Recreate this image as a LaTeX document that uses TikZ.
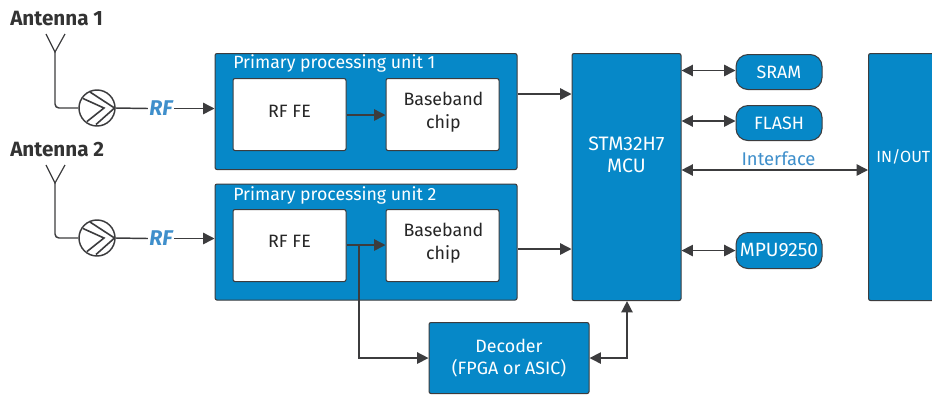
\documentclass[tikz,border=0pt]{standalone}
\usepackage{fontspec}
\setmainfont{Fira Sans}
\usetikzlibrary{arrows.meta}
\definecolor{bluefill}{HTML}{0688C8}
\definecolor{edgeg}{HTML}{3C3C3E}
\definecolor{labelb}{HTML}{3F8FCB}
\tikzset{
 x=0.75pt,y=-0.75pt,
 >={Triangle[length=8.5pt,width=8.5pt]},
 bxs/.style n args={4}{at={(#1,#3)},minimum width={(#2-#1)*0.75pt},minimum height={(#4-#3)*0.75pt},anchor=north west},
 bluebox/.style={draw=edgeg,line width=0.8pt,fill=bluefill,rounded corners=1.5pt,text=white,inner sep=0pt,align=center,font=\fontsize{13.4}{16}\selectfont},
 whitebox/.style={draw=edgeg,line width=0.8pt,fill=white,rounded corners=1.5pt},
 wtext/.style={text=black!85,inner sep=0pt,align=center,font=\fontsize{13.4}{17}\selectfont},
 pillbox/.style={bluebox,rounded corners=9pt},
 conn/.style={draw=edgeg,line width=1.1pt},
 arr/.style={conn,->},
 barr/.style={conn,<->},
 amp/.style={circle,draw=edgeg,line width=1.1pt,fill=white,minimum size=27pt,inner sep=0pt},
 antlabel/.style={text=black!80,font=\fontsize{15.5}{18}\selectfont\bfseries,inner sep=0pt,anchor=west},
 rflabel/.style={text=labelb,font=\fontsize{16}{18}\selectfont\bfseries\itshape,inner sep=1pt,fill=white},
 boxtitle/.style={text=white,font=\fontsize{13.3}{16}\selectfont,inner sep=0pt,anchor=west},
 iflabel/.style={text=labelb,font=\fontsize{13.8}{16}\selectfont,inner sep=0pt},
}
\begin{document}
\begin{tikzpicture}
\useasboundingbox (0,0) rectangle (932,394);
\clip (0,0) rectangle (932,394);
\fill[white] (0,0) rectangle (932,394);
% containers
\node[bluebox,bxs={214.5}{516.5}{53}{169}] (u1) {};
\node[bluebox,bxs={214.5}{516.5}{183.5}{299.5}] (u2) {};
\node[boxtitle] (t1) at (233,63.5) {Primary processing unit 1};
\node[boxtitle] (t2) at (233,195) {Primary processing unit 2};
\node[whitebox,bxs={232.5}{345.5}{78}{150}] (fe1) {};
\node[whitebox,bxs={385.5}{498.5}{78}{150}] (bb1) {};
\node[whitebox,bxs={232.5}{345.5}{209}{281}] (fe2) {};
\node[whitebox,bxs={385.5}{498.5}{209}{281}] (bb2) {};
\node[wtext] (fe1t) at (289.5,111) {RF FE};
\node[wtext] (bb1t) at (443.5,112.5) {Baseband\\chip};
\node[wtext] (fe2t) at (289.5,241.5) {RF FE};
\node[wtext] (bb2t) at (443.5,243) {Baseband\\chip};
\node[bluebox,bxs={571.5}{680.5}{53}{300}] (mcu) {};
\node[text=white,inner sep=0pt,align=center,font=\fontsize{14.6}{16.5}\selectfont] (mcut) at (626.5,155) {STM32H7\\MCU};
\node[bluebox,bxs={868}{950}{53}{300}] (io) {};
\node[text=white,inner sep=0pt,anchor=west,font=\fontsize{12.1}{16}\selectfont] (iot) at (876,157) {IN/OUT};
\node[pillbox,bxs={735.5}{821.5}{54}{89}] (sram) {SRAM};
\node[pillbox,bxs={735.5}{821.5}{105}{140}] (flash) {FLASH};
\node[pillbox,bxs={735.5}{821.5}{232}{268},font=\fontsize{14.4}{16}\selectfont] (mpu) {MPU9250};
\node[bluebox,bxs={428.5}{588.5}{322}{393}] (dec) {Decoder\\(FPGA or ASIC)};
% antennas
\node[antlabel] (a1) at (10,18.5) {Antenna 1};
\node[antlabel] (a2) at (10,150) {Antenna 2};
\node[amp] (amp1) at (97,108) {};
\node[amp] (amp2) at (97,238) {};
\foreach \n/\yy in {amp1/108,amp2/238}{
 \draw[edgeg,line width=1.2pt] (90,\yy-16) -- (114.5,\yy) -- (96,\yy+16.5);
 \draw[edgeg,line width=1.2pt] (83,\yy-9.5) -- (104,\yy) -- (87,\yy+13.5);
}
\coordinate (m1) at (55,52);
\coordinate (m2) at (55,183);
\coordinate (v1a) at (46,34); \coordinate (v1b) at (65,34);
\coordinate (v2a) at (46,165); \coordinate (v2b) at (65,165);
\draw[conn,line width=0.9pt] (v1a) -- (m1) -- (v1b);
\draw[conn,line width=0.9pt] (v2a) -- (m2) -- (v2b);
\draw[conn,rounded corners=3pt] (m1) |- (amp1.west);
\draw[conn,rounded corners=3pt] (m2) |- (amp2.west);
\node[rflabel] (rf1) at (161,108.5) {RF};
\node[rflabel] (rf2) at (161,238.5) {RF};
\draw[conn] (amp1.east) -- (rf1.west);
\draw[conn] (amp2.east) -- (rf2.west);
\draw[arr] (rf1.east) -- (u1.west |- rf1);
\draw[arr] (rf2.east) -- (u2.west |- rf2);
% inner
\coordinate (y1) at (0,115); \coordinate (y2) at (0,245);
\draw[arr] (fe1.east |- y1) -- (bb1.west |- y1);
\draw[arr] (fe2.east |- y2) -- (bb2.west |- y2);
\coordinate (br) at (359,245);
\draw[arr] (br) |- (dec.west);
% to MCU
\coordinate (y3) at (0,94); \coordinate (y4) at (0,249);
\draw[arr] (u1.east |- y3) -- (mcu.west |- y3);
\draw[arr] (u2.east |- y4) -- (mcu.west |- y4);
% peripherals
\coordinate (y5) at (0,70.5); \coordinate (y6) at (0,121); \coordinate (y7) at (0,170);
\draw[barr] (mcu.east |- y5) -- (sram.west |- y5);
\draw[barr] (mcu.east |- y6) -- (flash.west |- y6);
\draw[barr] (mcu.east |- y7) -- (io.west |- y7);
\draw[barr] (mcu.east |- mpu) -- (mpu.west);
\node[iflabel] (ifl) at (778.5,158.5) {Interface};
% decoder to MCU
\coordinate (x1) at (627,0);
\draw[barr] (dec.east) -| (x1 |- mcu.south);
\end{tikzpicture}
\end{document}
